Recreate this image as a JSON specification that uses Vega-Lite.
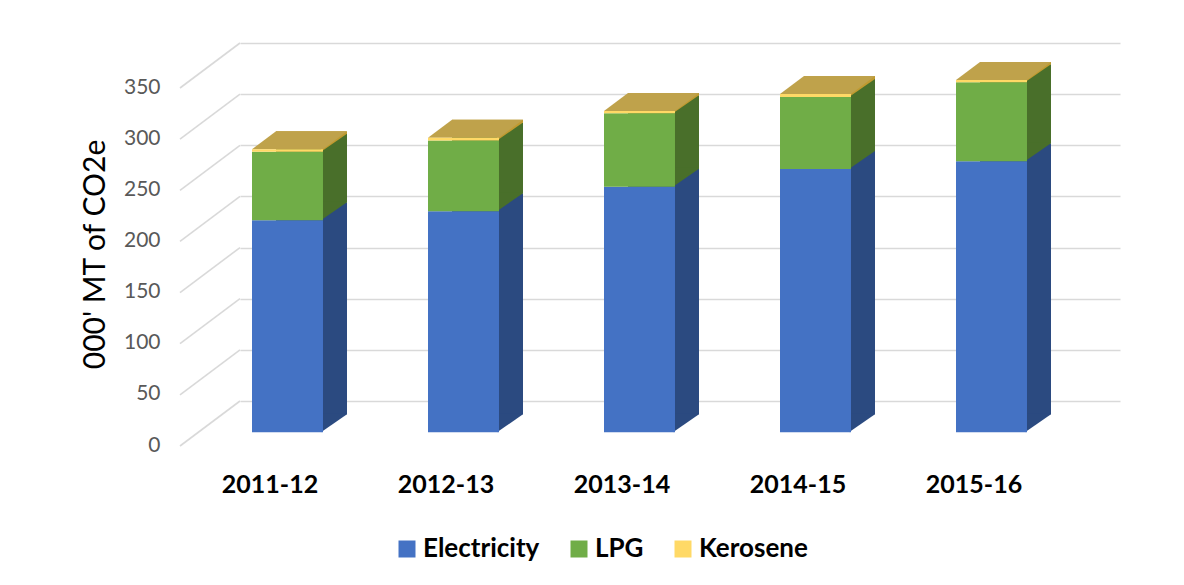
{
  "$schema": "https://vega.github.io/schema/vega-lite/v6.json",
  "width": 880,
  "height": 358,
  "autosize": {"type": "none"},
  "padding": {"left": 240, "top": 43, "right": 64, "bottom": 184},
  "background": "white",
  "config": {
    "view": {"stroke": null},
    "font": "Lato",
    "axisY": {
      "grid": true,
      "gridColor": "#d9d9d9",
      "gridWidth": 1.6,
      "domain": false,
      "ticks": false,
      "tickSize": 0,
      "labelPadding": 80,
      "labelOffset": 44,
      "labelFont": "Lato",
      "labelFontSize": 21,
      "labelColor": "#595959",
      "titleFont": "Lato",
      "titleFontSize": 30,
      "titleFontWeight": "normal",
      "titleColor": "#000000",
      "titleX": -145,
      "titleY": 211,
      "titleAngle": -90,
      "titleAlign": "center",
      "titleBaseline": "middle"
    },
    "axisX": {
      "domain": false,
      "ticks": false,
      "tickSize": 0,
      "grid": false,
      "labelAngle": 0,
      "labelOffset": -58,
      "labelPadding": 83,
      "labelBaseline": "middle",
      "labelFont": "Lato",
      "labelFontWeight": "bold",
      "labelFontSize": 25,
      "labelColor": "#000000"
    },
    "legend": {
      "orient": "none",
      "legendX": 154,
      "legendY": 493,
      "direction": "horizontal",
      "symbolType": "square",
      "symbolSize": 289,
      "symbolStrokeWidth": 0,
      "labelFont": "Lato",
      "labelFontWeight": "bold",
      "labelFontSize": 26,
      "labelColor": "#000000",
      "labelOffset": 3,
      "columnPadding": 26,
      "labelLimit": 400
    }
  },
  "datasets": {
    "emissions": [
      {"year": "2011-12", "source": "Electricity", "order": 1, "value": 207.4},
      {"year": "2011-12", "source": "LPG", "order": 2, "value": 67.0},
      {"year": "2011-12", "source": "Kerosene", "order": 3, "value": 2.4},
      {"year": "2012-13", "source": "Electricity", "order": 1, "value": 216.2},
      {"year": "2012-13", "source": "LPG", "order": 2, "value": 69.0},
      {"year": "2012-13", "source": "Kerosene", "order": 3, "value": 2.7},
      {"year": "2013-14", "source": "Electricity", "order": 1, "value": 240.0},
      {"year": "2013-14", "source": "LPG", "order": 2, "value": 71.8},
      {"year": "2013-14", "source": "Kerosene", "order": 3, "value": 2.3},
      {"year": "2014-15", "source": "Electricity", "order": 1, "value": 257.4},
      {"year": "2014-15", "source": "LPG", "order": 2, "value": 70.4},
      {"year": "2014-15", "source": "Kerosene", "order": 3, "value": 2.9},
      {"year": "2015-16", "source": "Electricity", "order": 1, "value": 264.9},
      {"year": "2015-16", "source": "LPG", "order": 2, "value": 77.3},
      {"year": "2015-16", "source": "Kerosene", "order": 3, "value": 2.3}
    ],
    "ticks": [
      {"t": 0}, {"t": 50}, {"t": 100}, {"t": 150}, {"t": 200}, {"t": 250}, {"t": 300}, {"t": 350}
    ]
  },
  "layer": [
    {
      "data": {"name": "ticks"},
      "mark": {
        "type": "point",
        "shape": "M -148 45 L -88 0",
        "size": 4,
        "filled": false,
        "stroke": "#d9d9d9",
        "strokeWidth": 1.6,
        "opacity": 1
      },
      "encoding": {
        "x": {
          "datum": "2011-12",
          "type": "nominal",
          "scale": {"type": "band", "domain": ["2011-12", "2012-13", "2013-14", "2014-15", "2015-16"], "paddingInner": 0.5966, "paddingOuter": 0.2983},
          "axis": {"title": null}
        },
        "y": {
          "field": "t",
          "type": "quantitative",
          "scale": {"domain": [0, 350], "nice": false, "zero": true},
          "axis": {"title": "000' MT of CO2e", "values": [0, 50, 100, 150, 200, 250, 300, 350]}
        }
      }
    },
    {
      "data": {"name": "emissions"},
      "transform": [
        {"stack": "value", "groupby": ["year"], "sort": [{"field": "order", "order": "ascending"}], "as": ["v0", "v1"]}
      ],
      "layer": [
        {
          "mark": {"type": "bar", "xOffset": -16.5, "yOffset": 13.3, "y2Offset": 13.3},
          "encoding": {
            "x": {"field": "year", "type": "nominal", "axis": {"title": null}},
            "y": {"field": "v1", "type": "quantitative", "axis": {"title": "000' MT of CO2e", "values": [0, 50, 100, 150, 200, 250, 300, 350]}},
            "y2": {"field": "v0"},
            "fill": {
              "condition": [
                {"test": "datum.source === 'Electricity'", "value": "#2b4a80"},
                {"test": "datum.source === 'LPG'", "value": "#496f2a"}
              ],
              "value": "#c09a30"
            }
          }
        },
        {
          "mark": {
            "type": "point",
            "shape": "M -7 12.3 L -7 31.3 L 19 13.3 L 19 12.3 Z",
            "size": 4,
            "filled": true,
            "strokeWidth": 0,
            "opacity": 1
          },
          "encoding": {
            "x": {"field": "year", "type": "nominal", "axis": {"title": null}},
            "y": {"field": "v0", "type": "quantitative", "axis": {"title": "000' MT of CO2e", "values": [0, 50, 100, 150, 200, 250, 300, 350]}},
            "fill": {
              "condition": [
                {"test": "datum.source === 'Electricity'", "value": "#2b4a80"},
                {"test": "datum.source === 'LPG'", "value": "#496f2a"}
              ],
              "value": "#c09a30"
            }
          }
        },
        {
          "transform": [{"filter": "datum.source === 'Kerosene'"}],
          "mark": {
            "type": "point",
            "shape": "M -76 31.3 L -5 31.3 L 19 13.3 L -52 13.3 Z",
            "size": 4,
            "filled": true,
            "fill": "#bfa24b",
            "strokeWidth": 0,
            "opacity": 1
          },
          "encoding": {
            "x": {"field": "year", "type": "nominal", "axis": {"title": null}},
            "y": {"field": "v1", "type": "quantitative", "axis": {"title": "000' MT of CO2e", "values": [0, 50, 100, 150, 200, 250, 300, 350]}}
          }
        },
        {
          "mark": {"type": "bar", "xOffset": -40.5, "yOffset": 31.3, "y2Offset": 31.3},
          "encoding": {
            "x": {"field": "year", "type": "nominal", "axis": {"title": null}},
            "y": {"field": "v1", "type": "quantitative", "axis": {"title": "000' MT of CO2e", "values": [0, 50, 100, 150, 200, 250, 300, 350]}},
            "y2": {"field": "v0"},
            "color": {
              "field": "source",
              "type": "nominal",
              "scale": {"domain": ["Electricity", "LPG", "Kerosene"], "range": ["#4472c4", "#70ad47", "#ffd966"]},
              "legend": {"title": null}
            }
          }
        }
      ]
    }
  ]
}
